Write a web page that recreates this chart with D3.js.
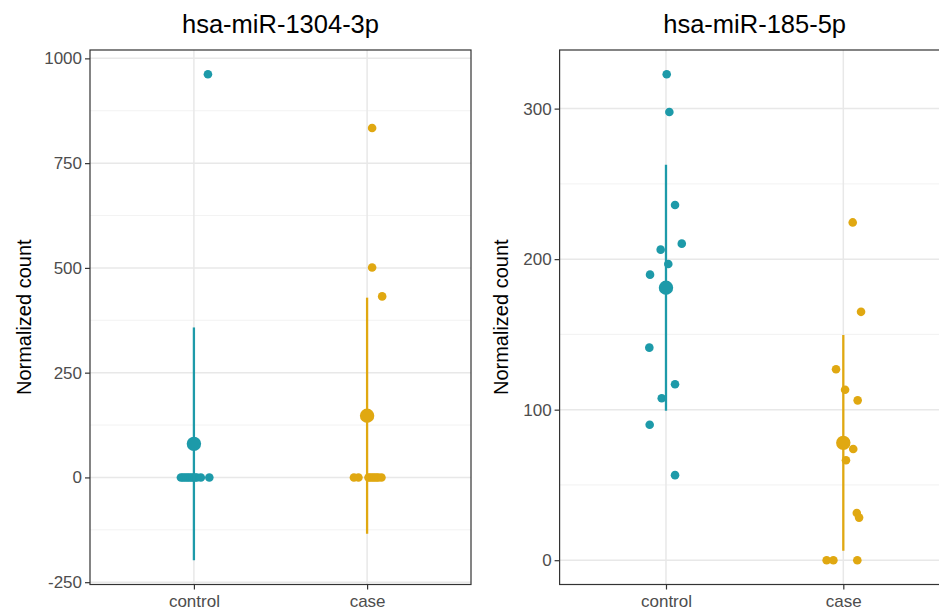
<!DOCTYPE html>
<html>
<head>
<meta charset="utf-8">
<script src="https://cdn.jsdelivr.net/npm/d3@7"></script>
<style>
  html, body { margin: 0; padding: 0; background: #fff; }
  svg { display: block; font-family: "Liberation Sans", Arial, Helvetica, sans-serif; }
</style>
</head>
<body>
<svg id="chart" width="939" height="613"></svg>
<script>
// ---------- data ----------
const groups = ["control", "case"];
const titles = ["hsa-miR-1304-3p", "hsa-miR-185-5p"];
const yLabel = "Normalized count";

// hsa-miR-1304-3p
const mir1304Control = [962, 0, 0, 0, 0, 0, 0, 0, 0, 0, 0, 0];
const mir1304ControlJitter = [0.081, -0.075, -0.064, -0.052, -0.040, -0.029, -0.017, -0.006, 0.006, 0.017, 0.040, 0.089];
const mir1304Case = [834, 501, 432, 0, 0, 0, 0, 0, 0, 0, 0, 0];
const mir1304CaseJitter = [0.029, 0.029, 0.087, -0.076, -0.050, 0.008, 0.019, 0.031, 0.042, 0.054, 0.065, 0.083];
const mir1304Ticks = [-250, 0, 250, 500, 750, 1000];

// hsa-miR-185-5p
const mir185Control = [322.8, 297.8, 236, 210.3, 206.3, 196.8, 189.7, 141.2, 116.9, 107.6, 90, 56.5];
const mir185ControlJitter = [0.004, 0.019, 0.051, 0.089, -0.030, 0.013, -0.090, -0.094, 0.051, -0.024, -0.092, 0.051];
const mir185Case = [224.4, 165, 126.9, 113.2, 106.2, 73.9, 66.4, 31.4, 28.3, 0, 0, 0];
const mir185CaseJitter = [0.053, 0.100, -0.041, 0.010, 0.081, 0.056, 0.015, 0.076, 0.089, -0.094, -0.056, 0.079];
const mir185Ticks = [0, 100, 200, 300];

const groupColors = ["#1d9aa9", "#e0a811"];

// ---------- drawing ----------
const svg = d3.select("#chart");

const panels = [
  { title: titles[0], left: 90, right: 471, values: [mir1304Control, mir1304Case],
    jitter: [mir1304ControlJitter, mir1304CaseJitter], ticks: mir1304Ticks, labelX: 31 },
  { title: titles[1], left: 559.6, right: 949.7, values: [mir185Control, mir185Case],
    jitter: [mir185ControlJitter, mir185CaseJitter], ticks: mir185Ticks, labelX: 508 }
];
const panelTop = 50, panelBottom = 584.5;

function stats(arr) {
  return { mean: d3.mean(arr), sd: d3.deviation(arr) };
}

panels.forEach(p => {
  const st = p.values.map(stats);
  const all = [];
  p.values.forEach(v => all.push(...v));
  st.forEach(s => { all.push(s.mean - s.sd, s.mean + s.sd); });
  const [lo, hi] = d3.extent(all);
  const pad = (hi - lo) * 0.05;

  const y = d3.scaleLinear().domain([lo - pad, hi + pad]).range([panelBottom, panelTop]);
  const xc = d3.scaleLinear().domain([0.4, 2.6]).range([p.left, p.right]);
  const xb = d3.scalePoint().domain(groups).range([xc(1), xc(2)]);

  const clipId = "clip" + Math.round(p.left);
  svg.append("clipPath").attr("id", clipId)
    .append("rect").attr("x", p.left).attr("y", panelTop)
    .attr("width", p.right - p.left).attr("height", panelBottom - panelTop);

  const g = svg.append("g");
  const inner = g.append("g").attr("clip-path", `url(#${clipId})`);

  const step = p.ticks[1] - p.ticks[0];
  const minor = [];
  for (let v = p.ticks[0] - step / 2; v <= hi + pad; v += step) {
    if (v >= lo - pad) minor.push(v);
  }
  inner.selectAll(".minor").data(minor).enter().append("line")
    .attr("x1", p.left).attr("x2", p.right)
    .attr("y1", d => y(d)).attr("y2", d => y(d))
    .attr("stroke", "#efefef").attr("stroke-width", 0.8);
  inner.selectAll(".major").data(p.ticks).enter().append("line")
    .attr("x1", p.left).attr("x2", p.right)
    .attr("y1", d => y(d)).attr("y2", d => y(d))
    .attr("stroke", "#e8e8e8").attr("stroke-width", 1.5);
  inner.selectAll(".vmajor").data(groups).enter().append("line")
    .attr("x1", d => xb(d)).attr("x2", d => xb(d))
    .attr("y1", panelTop).attr("y2", panelBottom)
    .attr("stroke", "#e8e8e8").attr("stroke-width", 1.5);

  groups.forEach((grp, gi) => {
    inner.selectAll(".pt" + gi).data(p.values[gi]).enter().append("circle")
      .attr("cx", (d, i) => xc(gi + 1 + p.jitter[gi][i]))
      .attr("cy", d => y(d))
      .attr("r", 4.3)
      .attr("fill", groupColors[gi]);
  });

  groups.forEach((grp, gi) => {
    const s = st[gi];
    inner.append("line")
      .attr("x1", xb(grp)).attr("x2", xb(grp))
      .attr("y1", y(s.mean - s.sd)).attr("y2", y(s.mean + s.sd))
      .attr("stroke", groupColors[gi]).attr("stroke-width", 2.3);
    inner.append("circle")
      .attr("cx", xb(grp)).attr("cy", y(s.mean)).attr("r", 7.2)
      .attr("fill", groupColors[gi]);
  });

  g.append("rect").attr("x", p.left).attr("y", panelTop)
    .attr("width", p.right - p.left).attr("height", panelBottom - panelTop)
    .attr("fill", "none").attr("stroke", "#333").attr("stroke-width", 1.2);

  const yAxis = g.append("g").attr("transform", `translate(${p.left},0)`)
    .call(d3.axisLeft(y).tickValues(p.ticks).tickSize(5).tickPadding(3).tickFormat(d => String(d)));
  yAxis.select(".domain").remove();
  yAxis.selectAll(".tick line").attr("stroke", "#333").attr("stroke-width", 1.2);
  yAxis.selectAll(".tick text").attr("fill", "#4d4d4d").attr("font-size", 17)
    .attr("font-family", "Liberation Sans, Arial, sans-serif");

  const xAxis = g.append("g").attr("transform", `translate(0,${panelBottom})`)
    .call(d3.axisBottom(xb).tickSize(5).tickPadding(5));
  xAxis.select(".domain").remove();
  xAxis.selectAll(".tick line").attr("stroke", "#333").attr("stroke-width", 1.2);
  xAxis.selectAll(".tick text").attr("fill", "#4d4d4d").attr("font-size", 17)
    .attr("font-family", "Liberation Sans, Arial, sans-serif");

  g.append("text").attr("x", (p.left + p.right) / 2).attr("y", 33)
    .attr("text-anchor", "middle").attr("font-size", 25.5).attr("fill", "#000")
    .text(p.title);

  g.append("text")
    .attr("transform", `translate(${p.labelX},${(panelTop + panelBottom) / 2}) rotate(-90)`)
    .attr("text-anchor", "middle").attr("font-size", 20).attr("fill", "#000")
    .text(yLabel);
});
</script>
</body>
</html>
